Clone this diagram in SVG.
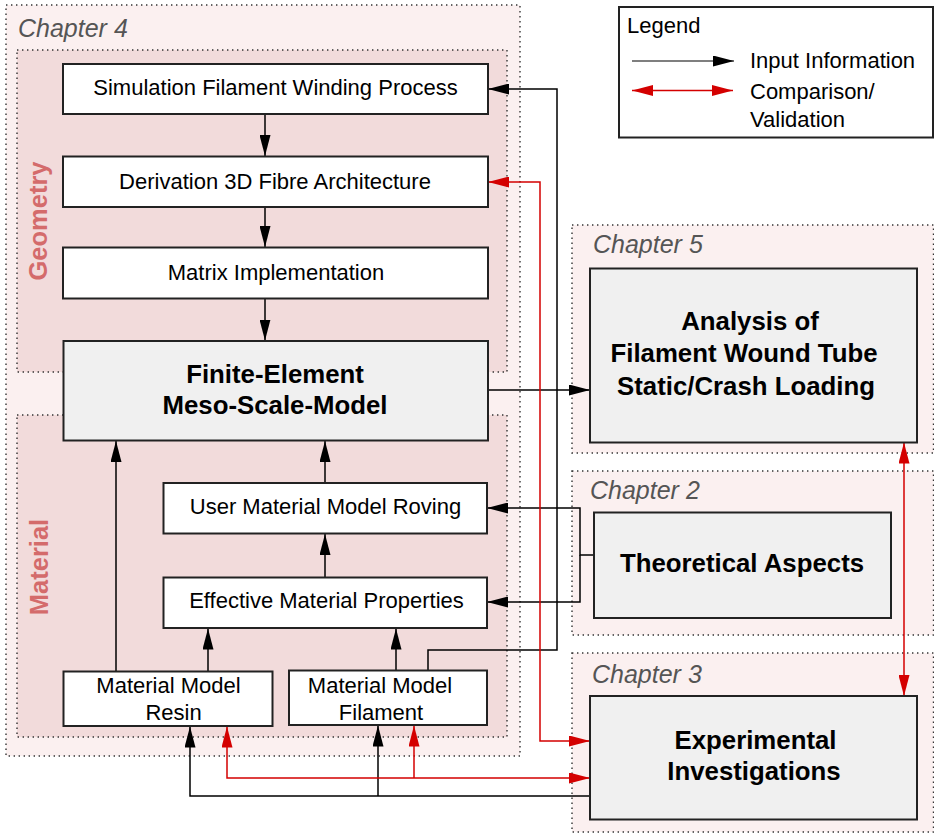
<svg xmlns="http://www.w3.org/2000/svg" width="934" height="834" viewBox="0 0 934 834">
<style>
text{font-family:"Liberation Sans",Arial,Helvetica,sans-serif;fill:#000}
.ch{fill:#fbf0f0;stroke:#333;stroke-width:1.4;stroke-dasharray:1.4 3.6}
.sub{fill:#f2dbdb;stroke:#333;stroke-width:1.4;stroke-dasharray:1.4 3.6}
.chl{font-size:25px;font-style:italic;fill:#555}
.side{font-size:25.5px;font-weight:bold;fill:#d46b6b}
.box{fill:#fff;stroke:#222;stroke-width:2}
.big{fill:#f0f0f0;stroke:#222;stroke-width:2}
.t{font-size:22px;text-anchor:middle}
.b{font-size:25.8px;font-weight:bold;text-anchor:middle}
.lg{font-size:22px}
.c{fill:none;stroke:#000;stroke-width:1.5;marker-end:url(#ab)}
.r{fill:none;stroke:#d40000;stroke-width:1.5;marker-end:url(#ar);marker-start:url(#ar)}
</style>
<defs>
<marker id="ab" markerUnits="userSpaceOnUse" markerWidth="21" markerHeight="11" viewBox="0 0 21 11" refX="21" refY="5.5" orient="auto-start-reverse"><path d="M0,0 L21,5.5 L0,11 z" fill="#000"/></marker>
<marker id="ar" markerUnits="userSpaceOnUse" markerWidth="21" markerHeight="11" viewBox="0 0 21 11" refX="21" refY="5.5" orient="auto-start-reverse"><path d="M0,0 L21,5.5 L0,11 z" fill="#d40000"/></marker>
</defs>
<rect width="934" height="834" fill="#fff"/>

<g id="chapter4">
<rect class="ch" x="6" y="5" width="514" height="751"/>
<text class="chl" x="18" y="37">Chapter 4</text>
</g>
<g id="geometry">
<rect class="sub" x="17" y="50" width="490" height="322"/>
<text class="side" transform="translate(47,221) rotate(-90)" text-anchor="middle">Geometry</text>
</g>
<g id="material">
<rect class="sub" x="17" y="415" width="490" height="322"/>
<text class="side" transform="translate(48,567) rotate(-90)" text-anchor="middle">Material</text>
</g>
<g id="chapter5">
<rect class="ch" x="572" y="225" width="361.5" height="228"/>
<text class="chl" x="593" y="253">Chapter 5</text>
</g>
<g id="chapter2">
<rect class="ch" x="572" y="471" width="361.5" height="164"/>
<text class="chl" x="590" y="499">Chapter 2</text>
</g>
<g id="chapter3">
<rect class="ch" x="572" y="653" width="361.5" height="179"/>
<text class="chl" x="592" y="683">Chapter 3</text>
</g>

<g id="legend">
<rect x="619" y="7" width="314" height="130.5" fill="#fff" stroke="#222" stroke-width="2"/>
<text class="lg" x="627" y="33">Legend</text>
<path d="M632,61 H734" fill="none" stroke="#000" stroke-width="1.2" marker-end="url(#ab)"/>
<path d="M632,90.5 H733" fill="none" stroke="#d40000" stroke-width="1.5" marker-end="url(#ar)" marker-start="url(#ar)"/>
<text class="lg" x="750" y="68">Input Information</text>
<text class="lg" x="750" y="99">Comparison/</text>
<text class="lg" x="750" y="127">Validation</text>
</g>

<g id="connectors">
<path class="c" d="M265,114 V156"/>
<path class="c" d="M265,207 V247"/>
<path class="c" d="M265,298 V340.5"/>
<path class="c" d="M116,671 V441"/>
<path class="c" d="M325,483 V441"/>
<path class="c" d="M325,577 V534"/>
<path class="c" d="M208,671 V628.5"/>
<path class="c" d="M396,670 V628.5"/>
<path class="c" d="M428,670 V650 H557 V89 H488"/>
<path class="c" d="M594,555 H580 V508 H487"/>
<path class="c" d="M580,555 V602 H487"/>
<path class="c" d="M488,390 H590"/>
<path class="c" d="M590,796 H190 V726.5"/>
<path class="c" d="M378,796 V725.5"/>
<path class="r" d="M488,182 H540 V741 H590"/>
<path class="r" d="M227,726.5 V778 H590"/>
<path class="r" d="M414,725.5 V778" style="marker-end:none"/>
<path class="r" d="M904,442.5 V696"/>
</g>

<g id="sim">
<rect class="box" x="63" y="64" width="425" height="50"/>
<text class="t" x="275.5" y="95">Simulation Filament Winding Process</text>
</g>
<g id="deriv">
<rect class="box" x="63" y="156.5" width="425" height="50.5"/>
<text class="t" x="275" y="189">Derivation 3D Fibre Architecture</text>
</g>
<g id="matrix">
<rect class="box" x="63" y="247.5" width="425" height="51"/>
<text class="t" x="276" y="279.5">Matrix Implementation</text>
</g>
<g id="fe">
<rect class="big" x="63.5" y="341" width="424.5" height="99.5"/>
<text class="b" x="275" y="383">Finite-Element</text>
<text class="b" x="275" y="414">Meso-Scale-Model</text>
</g>
<g id="umat">
<rect class="box" x="163.5" y="483" width="323.5" height="50.5"/>
<text class="t" x="325.5" y="513.5">User Material Model Roving</text>
</g>
<g id="eff">
<rect class="box" x="163.5" y="577.5" width="323.5" height="50.5"/>
<text class="t" x="326.5" y="607.5">Effective Material Properties</text>
</g>
<g id="resin">
<rect class="box" x="63.5" y="671.5" width="209" height="54.5"/>
<text class="t" x="168.5" y="692.5">Material Model</text>
<text class="t" x="173.5" y="720">Resin</text>
</g>
<g id="filament">
<rect class="box" x="289" y="670.5" width="198" height="54.5"/>
<text class="t" x="380" y="692.5">Material Model</text>
<text class="t" x="381" y="720">Filament</text>
</g>
<g id="analysis">
<rect class="big" x="590" y="268.5" width="327" height="174"/>
<text class="b" x="750" y="330">Analysis of</text>
<text class="b" x="744" y="362">Filament Wound Tube</text>
<text class="b" x="746" y="395">Static/Crash Loading</text>
</g>
<g id="theory">
<rect class="big" x="594" y="512.5" width="297" height="105.5"/>
<text class="b" x="742" y="572">Theoretical Aspects</text>
</g>
<g id="experiment">
<rect class="big" x="590" y="696" width="327" height="123.5"/>
<text class="b" x="755.5" y="748.5">Experimental</text>
<text class="b" x="754" y="779.5">Investigations</text>
</g>
</svg>
